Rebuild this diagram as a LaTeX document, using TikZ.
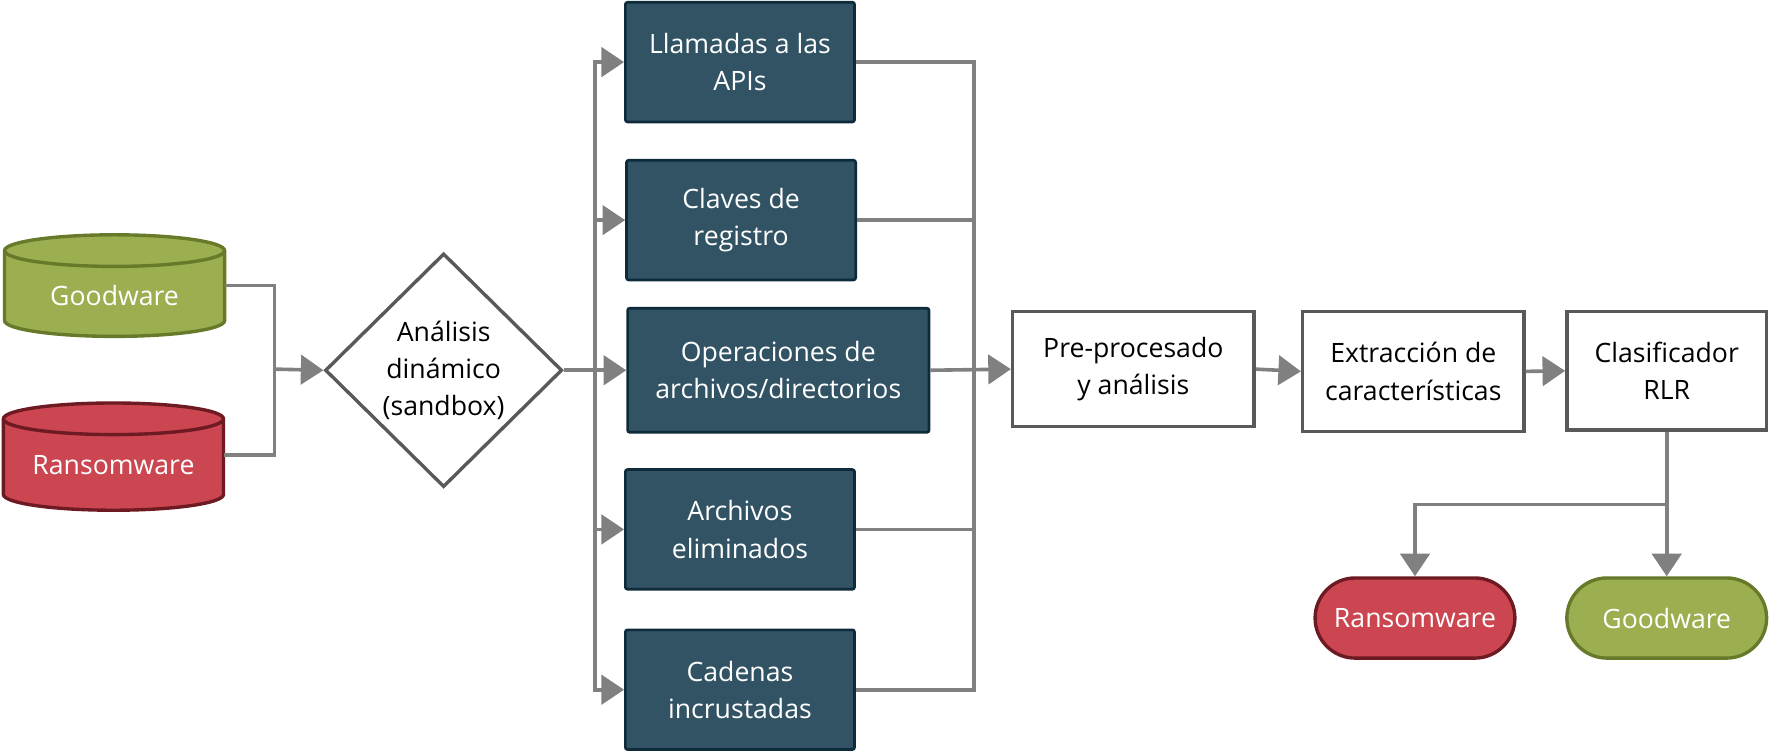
\documentclass[tikz,border=0pt]{standalone}
\usepackage{fontspec}
\setmainfont{Open Sans}
\usetikzlibrary{arrows.meta,shapes.geometric,shapes.misc}
\definecolor{gwgreen}{RGB}{155,174,80}
\definecolor{gwdark}{RGB}{102,122,42}
\definecolor{rwred}{RGB}{203,70,80}
\definecolor{rwdark}{RGB}{110,26,34}
\definecolor{featblue}{RGB}{50,83,100}
\definecolor{featdark}{RGB}{13,43,59}
\definecolor{linegray}{RGB}{128,128,128}
\definecolor{boxgray}{RGB}{89,89,89}

\begin{document}
\begin{tikzpicture}[x=0.5pt,y=-0.5pt,
  font=\fontsize{11.8}{16.5}\selectfont,
  feat/.style={draw=featdark,line width=1.2pt,fill=featblue,text=white,align=center,
    inner sep=0pt,minimum width=101.5pt,minimum height=53pt,rounded corners=1pt},
  stage/.style={draw=boxgray,line width=1.5pt,fill=white,align=center,inner sep=0pt},
  cyltext/.style={text=white,inner sep=0pt,minimum width=97.5pt,minimum height=31pt,
    text height=17.5pt,text depth=0pt},
  pill/.style={rounded rectangle,line width=1.5pt,text=white,inner sep=0pt,
    minimum width=88.5pt,minimum height=35.5pt},
  conn/.style={draw=linegray,line width=1.6pt},
  arr/.style={conn,-{Triangle[length=10pt,width=13pt]}}]
\useasboundingbox (0,0) rectangle (1568,668);

% Input datasets
\filldraw[fill=gwgreen,draw=gwdark,line width=1.5pt] (4,222) -- (4,284)
  arc[start angle=180,end angle=0,x radius=97.5,y radius=14] -- (199,222)
  arc[start angle=0,end angle=-180,x radius=97.5,y radius=14] -- cycle;
\draw[gwdark,line width=1.5pt] (4,222) arc[start angle=180,end angle=0,x radius=97.5,y radius=14];
\node[cyltext] (gw) at (101.5,253) {Goodware};
\filldraw[fill=rwred,draw=rwdark,line width=1.5pt] (3,371) -- (3,438)
  arc[start angle=180,end angle=0,x radius=97.5,y radius=14] -- (198,371)
  arc[start angle=0,end angle=-180,x radius=97.5,y radius=14] -- cycle;
\draw[rwdark,line width=1.5pt] (3,371) arc[start angle=180,end angle=0,x radius=97.5,y radius=14];
\node[cyltext] (rw) at (100.5,403) {Ransomware};

% Sandbox
\node[diamond,draw=boxgray,line width=1.5pt,align=center,inner sep=0pt,
  minimum width=105pt,minimum height=103.5pt] (dyn) at (393,328) {Análisis\\dinámico\\(sandbox)};
\coordinate (join) at (243,327);
\draw[conn] (gw.east) -| (join);
\draw[conn] (rw.east) -| (join);
\draw[arr] (join) -- (dyn.west);

% Extracted behaviour
\node[feat] (api) at (655.5,55) {Llamadas a las\\APIs};
\node[feat] (reg) at (656.5,195) {Claves de\\registro};
\node[feat,minimum width=133.5pt,minimum height=55pt] (ops) at (689.5,328) {Operaciones de\\archivos/directorios};
\node[feat] (del) at (655.5,469) {Archivos\\eliminados};
\node[feat] (str) at (655.5,611) {Cadenas\\incrustadas};
\coordinate (busL) at (527,328);
\coordinate (busR) at (863,328);
\draw[conn] (dyn.east) -- (busL);
\foreach \f in {api,reg,ops,del,str}
  \draw[arr] (busL) |- (\f.west);
\foreach \f in {api,reg,del,str}
  \draw[conn] (\f.east) -| (busR);

% Pipeline
\node[stage,minimum width=107pt,minimum height=51pt] (pre) at (1004,327) {Pre-procesado\\y análisis};
\node[stage,minimum width=98pt,minimum height=53pt] (ext) at (1252,329) {Extracción de\\características};
\node[stage,minimum width=88.5pt,minimum height=52.5pt] (clf) at (1476.5,328.5) {Clasificador\\RLR};
\draw[arr] (ops.east) -- (pre.west);
\draw[arr] (pre.east) -- (ext.west);
\draw[arr] (ext.east) -- (clf.west);

% Output classes
\node[pill,draw=rwdark,fill=rwred] (rwout) at (1253.5,547.5) {Ransomware};
\node[pill,draw=gwdark,fill=gwgreen] (gwout) at (1476.5,547.5) {Goodware};
\coordinate (split) at (clf.south |- 0,447);
\draw[conn] (clf.south) -- (split);
\draw[arr] (split) -| (rwout.north);
\draw[arr] (split) -- (gwout.north);
\end{tikzpicture}
\end{document}
